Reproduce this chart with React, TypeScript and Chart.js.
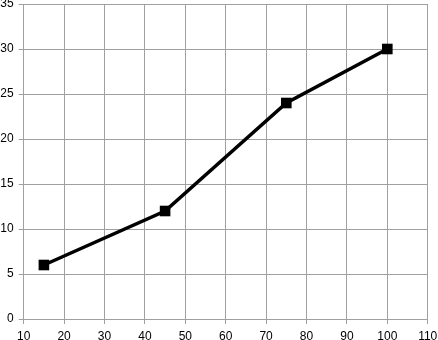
import React, { useEffect, useRef } from "react";
import { Chart, registerables, LineController } from "chart.js";

Chart.register(...registerables);

// Keep large square markers from enlarging the top padding of the chart area.
(LineController.prototype as any).getMaxOverflow = function () {
  return 0;
};

const xValues = [15, 45, 75, 100];
const yValues = [6, 12, 24, 30];
const xMin = 10;
const xMax = 110;
const xStep = 10;
const yMin = 0;
const yMax = 35;
const yStep = 5;

export default function App() {
  const ref = useRef<HTMLCanvasElement | null>(null);
  useEffect(() => {
    if (!ref.current) return;
    const chart = new Chart(ref.current, {
      type: "line",
      data: {
        datasets: [
          {
            data: xValues.map((x, i) => ({ x, y: yValues[i] })),
            borderColor: "#000",
            backgroundColor: "#000",
            borderWidth: 3.5,
            pointStyle: "rect",
            pointRadius: 7.5,
            pointBorderWidth: 0,
            pointBackgroundColor: "#000",
            tension: 0,
            clip: false,
          },
        ],
      },
      options: {
        animation: false,
        responsive: false,
        maintainAspectRatio: false,
        layout: { padding: { left: 0, right: 10.3, top: 4, bottom: 0 } },
        plugins: { legend: { display: false }, tooltip: { enabled: false } },
        scales: {
          x: {
            type: "linear",
            min: xMin,
            max: xMax,
            ticks: {
              stepSize: xStep,
              color: "#000",
              padding: 5,
              maxRotation: 0,
              font: { family: "Liberation Sans", size: 12 },
            },
            grid: { color: "#a0a0a0", tickLength: 5, lineWidth: 1 },
            border: { color: "#a0a0a0" },
            afterFit: (s: any) => {
              s.height = 21;
              s.paddingLeft = 0;
              s.paddingRight = 0;
            },
          },
          y: {
            type: "linear",
            min: yMin,
            max: yMax,
            ticks: {
              stepSize: yStep,
              color: "#000",
              padding: 5,
              font: { family: "Liberation Sans", size: 12 },
            },
            grid: { color: "#a0a0a0", tickLength: 5, lineWidth: 1 },
            border: { color: "#a0a0a0" },
            afterFit: (s: any) => {
              s.width = 23.7;
              s.paddingTop = 0;
              s.paddingBottom = 0;
            },
          },
        },
      },
    });
    return () => chart.destroy();
  }, []);
  return (
    <div style={{ position: "fixed", left: 0, top: 0, width: 438, height: 340, background: "#fff" }}>
      <canvas ref={ref} width={438} height={340} style={{ width: 438, height: 340, display: "block" }} />
    </div>
  );
}
